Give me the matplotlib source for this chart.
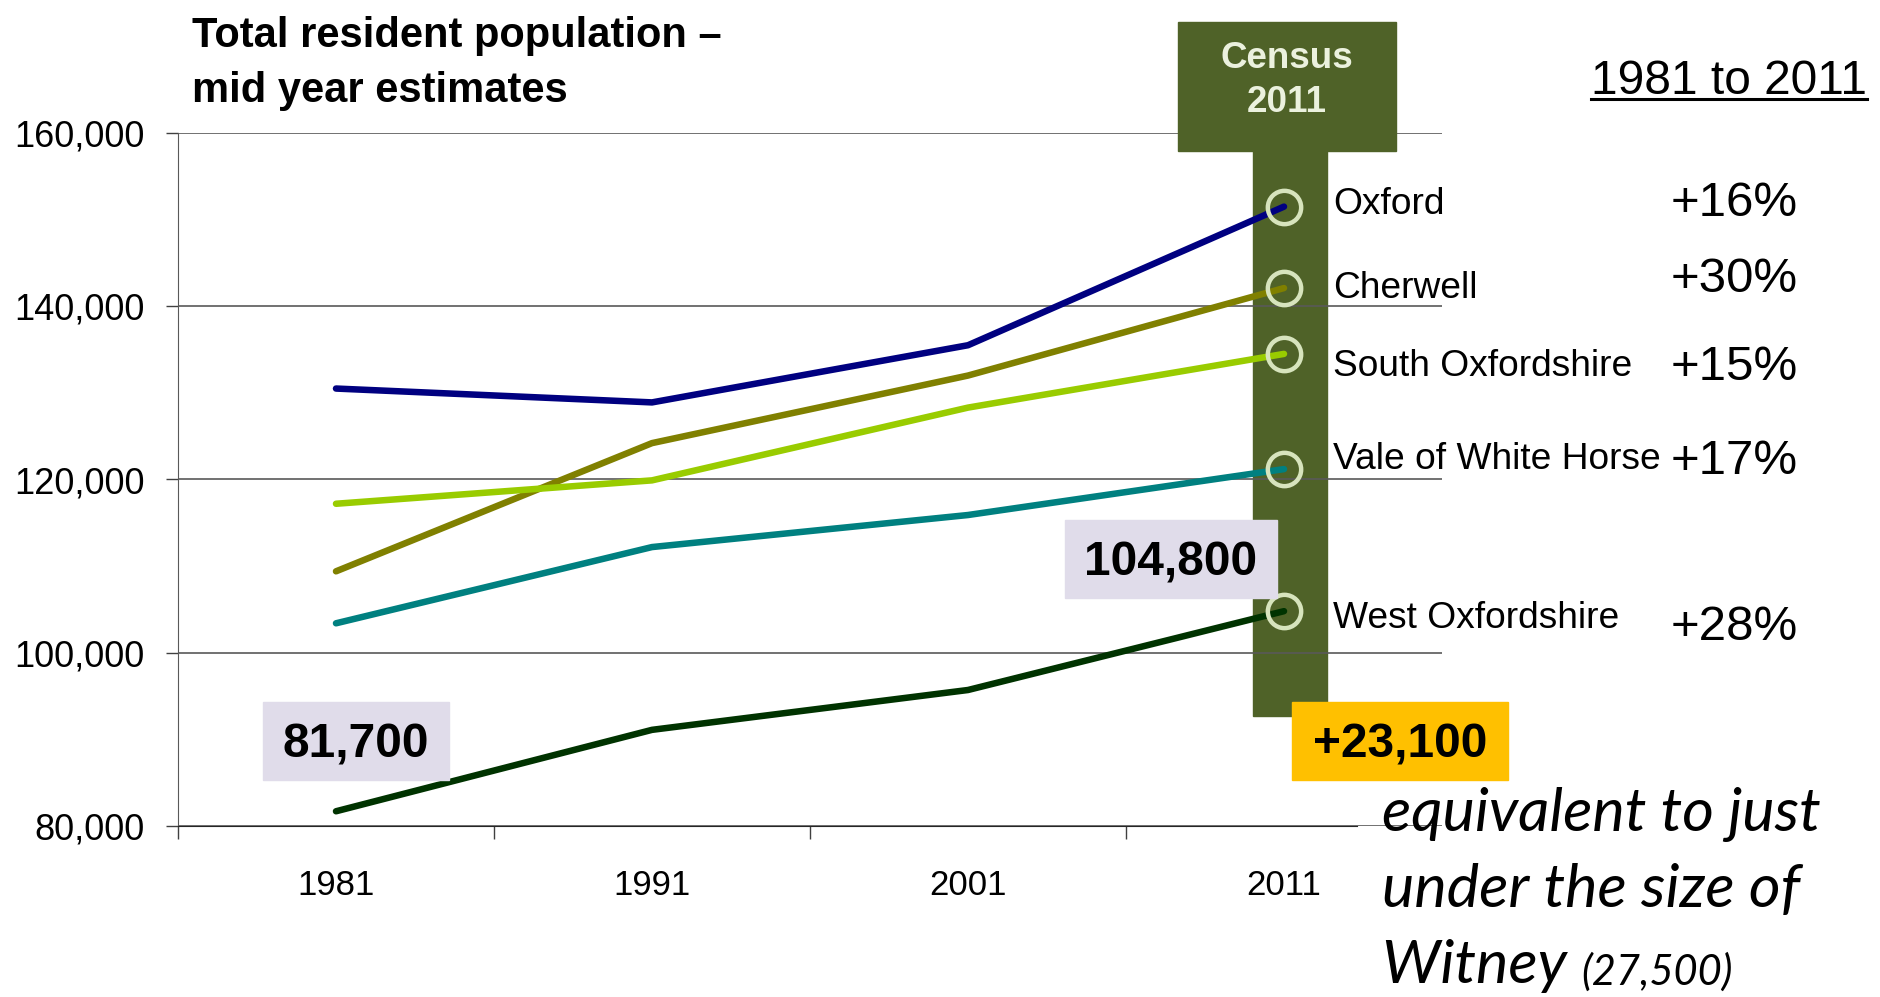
import matplotlib
matplotlib.use('Agg')
import matplotlib.pyplot as plt
from matplotlib.patches import Rectangle
from matplotlib.lines import Line2D
from matplotlib.ticker import FuncFormatter

# mid year estimates
years = ['1981', '1991', '2001', '2011']
districts = ['Oxford', 'Cherwell', 'South Oxfordshire', 'Vale of White Horse', 'West Oxfordshire']
oxford = [130500, 128900, 135500, 151500]
cherwell = [109400, 124200, 132000, 142100]
south_oxon = [117200, 119900, 128300, 134500]
vale = [103400, 112200, 115900, 121200]
west_oxon = [81700, 91100, 95700, 104800]
pct_labels = ['+16%', '+30%', '+15%', '+17%', '+28%']
y_ticks = [80000, 100000, 120000, 140000, 160000]

series = [oxford, cherwell, south_oxon, vale, west_oxon]
colors = ['#000080', '#808000', '#99CC00', '#008080', '#003300']

W, H = 1881, 997


def fx(px):
    return px / W


def fy(py):
    return 1 - py / H


plt.rcParams['font.family'] = ['Liberation Sans', 'DejaVu Sans']
fig = plt.figure(figsize=(W / 100, H / 100), dpi=100)
ax = fig.add_axes([fx(178), fy(826), fx(1442) - fx(178), fy(133) - fy(826)])
ax.patch.set_visible(False)
ax.set_zorder(1)

xs = list(range(len(years)))
for vals, c in zip(series, colors):
    ax.plot(xs, vals, color=c, lw=4.7, solid_capstyle='round', zorder=3)
    ax.plot(xs[-1], vals[-1], 'o', ms=24, mfc='none', mec='#D7E4BD', mew=3.2, zorder=4)

ax.set_xlim(-0.5, 3.5)
ax.set_ylim(80000, 160000)
ax.set_xticks([-0.5, 0.5, 1.5, 2.5])
ax.set_xticklabels([''] * 4)
ax.set_xticks(xs, labels=years, minor=True)
ax.tick_params(axis='x', which='major', length=9, width=1, color='#404040', direction='out')
ax.tick_params(axis='x', which='minor', length=0, pad=31, labelsize=25)
ax.set_yticks(y_ticks)
ax.yaxis.set_major_formatter(FuncFormatter(lambda v, p: '{:,}'.format(int(v))))
ax.tick_params(axis='y', length=9, width=1, color='#404040', pad=15, labelsize=26)
ax.grid(axis='y', color='#595959', lw=1.2)
ax.set_axisbelow(True)
for s in ['top', 'right']:
    ax.spines[s].set_visible(False)
ax.spines['bottom'].set_bounds(-0.5, 3.23)
ax.spines['bottom'].set_color('#262626')
ax.spines['left'].set_color('#595959')

# census 2011 column
green = '#4F6228'
fig.add_artist(Rectangle((fx(1253), fy(716)), fx(1327) - fx(1253), fy(151) - fy(716),
                         transform=fig.transFigure, color=green, zorder=0))
fig.add_artist(Rectangle((fx(1178), fy(151)), fx(1396) - fx(1178), fy(22) - fy(151),
                         transform=fig.transFigure, color=green, zorder=5))
fig.text(fx(1287), fy(58), 'Census', ha='center', va='center', fontsize=26.5,
         fontweight='bold', color='#EBF1DE', zorder=6)
fig.text(fx(1287), fy(102), '2011', ha='center', va='center', fontsize=26.5,
         fontweight='bold', color='#EBF1DE', zorder=6)

# title
fig.text(fx(192), fy(36), 'Total resident population \u2013', ha='left', va='center',
         fontsize=30, fontweight='bold')
fig.text(fx(192), fy(91), 'mid year estimates', ha='left', va='center',
         fontsize=30, fontweight='bold')

# district names and growth
name_y = [205, 289, 367, 459, 618]
pct_y = [204, 280, 367, 461, 627]
for name, ny, pct, py in zip(districts, name_y, pct_labels, pct_y):
    fig.text(fx(1333), fy(ny), name, ha='left', va='center', fontsize=26.7)
    fig.text(fx(1798), fy(py), pct, ha='right', va='center', fontsize=35.5)

head = fig.text(fx(1591), fy(82), '1981 to 2011', ha='left', va='center', fontsize=34.5)
fig.canvas.draw()
hb = head.get_window_extent()
fig.add_artist(Line2D([hb.x0 / W, hb.x1 / W], [fy(99), fy(99)], transform=fig.transFigure,
                      color='black', lw=2.2))

# value callouts
callouts = [('81,700', 263, 449, 702, '#E0DCEA'),
            ('104,800', 1065, 1277, 520, '#E0DCEA'),
            ('+23,100', 1292, 1508, 702, '#FFC000')]
for label, x0, x1, y0, fc in callouts:
    fig.add_artist(Rectangle((fx(x0), fy(y0 + 78)), fx(x1) - fx(x0), fy(y0) - fy(y0 + 78),
                             transform=fig.transFigure, color=fc, zorder=6))
    fig.text(fx((x0 + x1) / 2), fy(y0 + 43), label, ha='center', va='center',
             fontsize=34.5, fontweight='bold', zorder=7)

# comparison note
note_font = ['Lato', 'DejaVu Sans']
fig.text(fx(1382), fy(814), 'equivalent to just', ha='left', va='center',
         fontsize=44, style='italic', family=note_font)
fig.text(fx(1382), fy(890), 'under the size of', ha='left', va='center',
         fontsize=44, style='italic', family=note_font)
t = fig.text(fx(1382), fy(966), 'Witney ', ha='left', va='center',
             fontsize=44, style='italic', family=note_font)
fig.canvas.draw()
bb = t.get_window_extent()
fig.text(bb.x1 / W, fy(972), '(27,500)', ha='left', va='center',
         fontsize=30, style='italic', family=note_font)

fig.savefig('out.png', dpi=100)
